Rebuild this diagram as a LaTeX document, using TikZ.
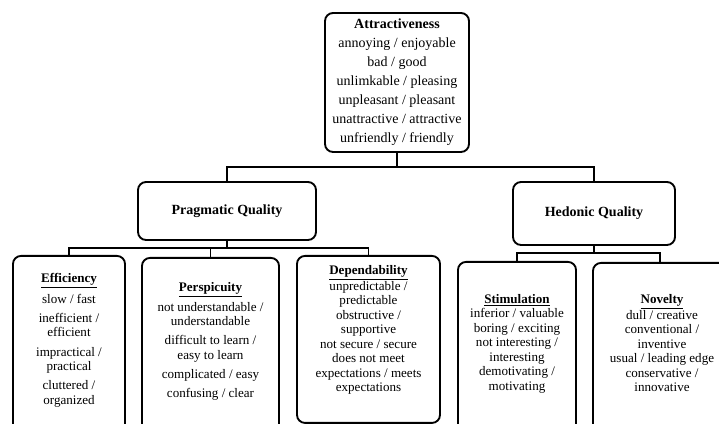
\documentclass[tikz,border=0pt]{standalone}
\usepackage{fontspec}
\setmainfont{Liberation Serif}

\begin{document}
\begin{tikzpicture}[x=0.75pt,y=-0.75pt]
			\tikzstyle{BoxStyle}  = [draw, rounded corners=6pt, line width=1.4pt, inner sep=0pt, align=center]
			\tikzstyle{LeafStyle} = [BoxStyle, anchor=north]
			\tikzstyle{TextStyle} = [anchor=north, inner sep=0pt, align=center, font=\fontsize{9.8}{10.9}\selectfont]
			\tikzstyle{EdgeStyle} = [line width=0.9pt]

			\useasboundingbox (0,0) rectangle (719,424);
			\clip (0,0) rectangle (719,424);

			\node[BoxStyle, minimum width=108pt, minimum height=104.25pt, font=\fontsize{10.5}{14.25}\selectfont] (attr) at (397,82.5)
				{\textbf{Attractiveness}\\ annoying / enjoyable\\ bad / good\\ unlimkable / pleasing\\ unpleasant / pleasant\\ unattractive / attractive\\ unfriendly / friendly};
			\node[BoxStyle, minimum width=133.5pt, minimum height=43.5pt, font=\fontsize{10.5}{12}\selectfont\bfseries] (prag) at (227,211) {Pragmatic Quality};
			\node[BoxStyle, minimum width=121.5pt, minimum height=47.25pt, font=\fontsize{10.5}{12}\selectfont\bfseries] (hed) at (594,213.5) {Hedonic Quality};

			\node[LeafStyle, minimum width=84pt, minimum height=150pt] (eff) at (69,255) {};
			\node[LeafStyle, minimum width=102.75pt, minimum height=150pt] (per) at (210.5,257) {};
			\node[LeafStyle, minimum width=107.25pt, minimum height=125.25pt] (dep) at (368.5,255) {};
			\node[LeafStyle, minimum width=88.5pt, minimum height=150pt] (sti) at (517,261) {};
			\node[LeafStyle, minimum width=100.5pt, minimum height=150pt] (nov) at (660,262) {};

			\node[TextStyle] (effT) at (69,273) {\underline{\textbf{Efficiency}}\\[3.5pt] slow / fast\\[3.5pt] inefficient /\\ efficient\\[3.5pt] impractical /\\ practical\\[3.5pt] cluttered /\\ organized};
			\node[TextStyle] (perT) at (210.5,282) {\underline{\textbf{Perspicuity}}\\[3pt] not understandable /\\ understandable\\[3.5pt] difficult to learn /\\ easy to learn\\[3.5pt] complicated / easy\\[3pt] confusing / clear};
			\node[TextStyle] (depT) at (368.5,265) {\underline{\textbf{Dependability}}\\ unpredictable /\\ predictable\\ obstructive /\\ supportive\\ not secure / secure\\ does not meet\\ expectations / meets\\ expectations};
			\node[TextStyle] (stiT) at (517,294) {\underline{\textbf{Stimulation}}\\ inferior / valuable\\ boring / exciting\\ not interesting /\\ interesting\\ demotivating /\\ motivating};
			\node[TextStyle] (novT) at (662,294) {\underline{\textbf{Novelty}}\\ dull / creative\\ conventional /\\ inventive\\ usual / leading edge\\ conservative /\\ innovative};

			\coordinate (top)  at (397,167);
			\coordinate (left) at (227,248);
			\coordinate (right) at (594,253);

			\draw[EdgeStyle] (attr.south) -- (top);
			\draw[EdgeStyle] (prag.north) |- (top) -| (hed.north);
			\draw[EdgeStyle] (prag.south) -- (left);
			\draw[EdgeStyle] (eff.north) |- (left) -| (dep.north);
			\draw[EdgeStyle] (per.north) -- (per.north |- left);
			\draw[EdgeStyle] (hed.south) -- (right);
			\draw[EdgeStyle] (sti.north) |- (right) -| (nov.north);
		\end{tikzpicture}
\end{document}
